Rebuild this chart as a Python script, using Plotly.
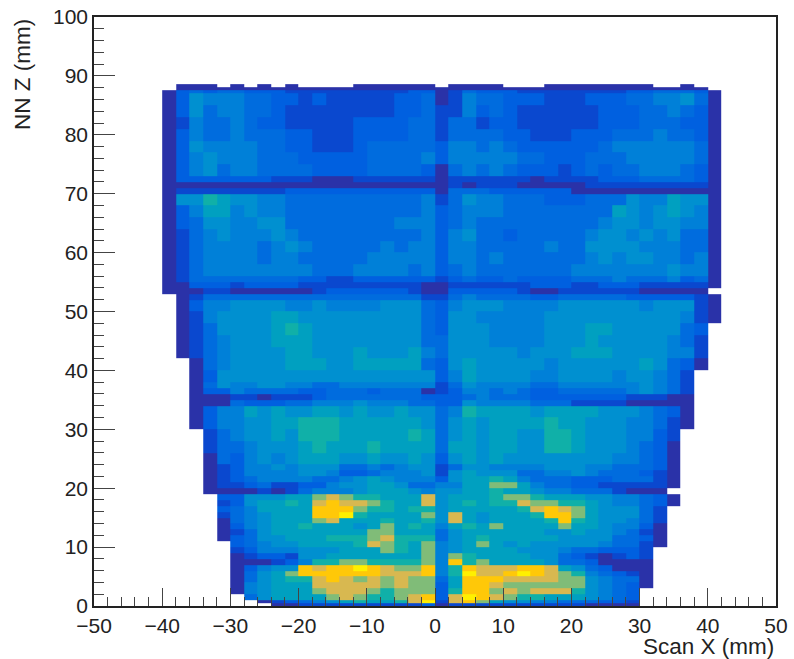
import plotly.graph_objects as go

# Bin edges (mm)
x_edges = list(range(-40, 44, 2))
y_edges_top_down = [88.6, 88.1, 87.6, 87, 85, 83, 81, 79, 77, 75, 73, 72, 71, 70, 68, 66, 64, 62, 60, 58,
                    56, 55, 54, 53, 52, 50, 48, 46, 44, 42, 40, 38, 37, 36, 35, 34, 32, 30, 28, 26, 24,
                    23, 22, 21, 20, 19, 18, 17, 16, 15, 14, 13, 12, 11, 10, 9, 8, 7, 6, 5, 4, 3, 2, 1, 0.5, 0]

# Colour level per bin (hex digit 0..B, "." = empty), top row first.
# Columns grouped: -40..-22, -20..-2, 0, 2..20, 22..40
rows = [
    ".000.0.0.0 ....000000 . 0000...000 00000..0..",
    ".000000000 0000000000 0 0000000000 000000000.",
    "0232332221 1111111122 0 1322211111 1112233320",
    "0254443322 1211111223 0 1433222111 2223344530",
    "0253443321 1111111223 1 1423211111 1222334320",
    "0143343221 1111222233 1 3312211111 1222333220",
    "0243343332 2111222233 1 3333221112 2233343320",
    "0254444332 2111233333 2 4434322222 2344444430",
    "0245444333 2222233334 2 4444433222 3334444430",
    "0245344333 3222233332 0 3434322212 3233444320",
    "0222222211 1000111111 0 1111110111 1222333320",
    "0000000000 0000000000 0 1011100000 1111111110",
    "0111111112 2222222222 0 3332222220 0000000000",
    "0557655443 3333333334 1 3544333222 3335446550",
    "0246645443 3333333334 2 3444333333 3365456540",
    "0235544553 3333333444 2 3433333333 3455455440",
    "0134544454 3333333334 2 4533233333 4554545330",
    "0134444345 4333334344 2 4433333433 5555444330",
    "0134444344 3333344444 2 4434333333 4545544340",
    "0134444444 4333444434 2 3433333334 4444445440",
    "0133333333 2211222222 1 2322322223 3343334230",
    "0022212222 1111111110 0 1111112221 1222111110",
    "0001100000 0122222210 0 2222210011 111100000.",
    ".013333333 3333333331 1 3433332233 3332222210",
    ".024455554 4544445553 2 4555444455 5555455510",
    ".014555566 5555555553 2 5544444555 5555555410",
    ".013555567 6555555553 2 5554444555 665555532.",
    ".013455566 6555555553 3 5554444555 655555431.",
    ".013455556 6555655564 3 5555545556 665555441.",
    "..03455556 6655666663 2 5655555455 555565320.",
    "..02555555 5555555555 2 4655554455 55455431..",
    "..03544554 4334444444 1 3544443344 44445431..",
    "..02243333 2233323330 1 2443432233 33345431..",
    "..00011011 1233333332 2 2343332222 22211100..",
    "..00032223 3444544433 2 2544443331 11100000..",
    "..02446565 5665655655 3 4766665666 65554320..",
    "..02445566 7776666665 3 5656666766 55544310..",
    "...1345565 7776666676 3 5656655776 5554421...",
    "...1334555 6766676666 3 6656655776 5554320...",
    "...0324545 6665565565 2 5656555555 5544320...",
    "...0124454 5553343455 1 3554444555 4433320...",
    "...0124444 5542234445 1 5655533445 4333210...",
    "...0123444 4334565444 2 5667643332 2233310...",
    "...0112311 2245566533 4 4668864332 2111110...",
    "...0000101 3444566654 5 5667665443 331000....",
    "....225556 6898776669 5 6667887666 5544320...",
    "....125667 69A9987669 5 6767798877 6544320...",
    "....234666 6AAA877677 5 6666679A98 655531....",
    "....134566 6AAB766668 5 9656667AA8 655531....",
    "....034566 6896667667 5 96566667A7 655431....",
    "....024566 7666568676 4 6768666686 654420....",
    "....013566 6666688666 3 5666666556 554310....",
    "....023556 6677789777 3 5676666655 553320....",
    ".....23455 6666798768 4 5686565555 543310....",
    ".....12444 5556668768 4 5666655543 32221.....",
    ".....01221 5566666668 4 8766665532 10121.....",
    ".....00012 4778877778 4 A786666533 20000.....",
    ".....02455 A9AABA988A 4 7A999AA965 32000.....",
    ".....03568 AAAAAA999A 4 7B99ABA987 43210.....",
    ".....03567 79A9898988 3 6AAA999988 54330.....",
    ".....04566 6999998988 2 6AA9888888 54320.....",
    ".....04566 6899987888 2 7AA8989997 5432......",
    "......3566 668987789A 2 9BA9877666 5432......",
    ".......012 345676679B 1 9A86554433 3221......",
    "........00 1111111112 0 1111111111 0000......",
]

level_colors = ["#2a32a8", "#0a48cf", "#0060e0", "#006cde", "#0080d8", "#0090d0",
                "#00a0c0", "#10b0a8", "#80bc78", "#d8b850", "#ffc808", "#fff000"]

x_title = "Scan X (mm)"
y_title = "NN Z (mm)"
x_ticks = list(range(-50, 60, 10))
y_ticks = list(range(0, 110, 10))

z = []
for r in rows[::-1]:
    cells = r.replace(" ", "")
    assert len(cells) == 41, r
    z.append([None if c == "." else int(c, 16) for c in cells])
y_edges = y_edges_top_down[::-1]

n = len(level_colors) - 1
colorscale = [[i / n, c] for i, c in enumerate(level_colors)]

fig = go.Figure(go.Heatmap(x=x_edges, y=y_edges, z=z, zmin=0, zmax=n, colorscale=colorscale,
                           showscale=False, hoverongaps=False))

tick_font = dict(family="Liberation Sans, Arial, sans-serif", size=21, color="#222222")
axis_common = dict(showgrid=False, zeroline=False, showline=True, mirror=True, linecolor="#222222",
                   linewidth=1.5, ticks="inside", tickcolor="#444444", tickwidth=1, tickfont=tick_font,
                   automargin=False)

fig.update_xaxes(range=[-50, 50], tickvals=x_ticks, ticklen=18, **axis_common,
                 minor=dict(dtick=2, ticks="inside", ticklen=9, tickcolor="#444444", tickwidth=1, showgrid=False))
fig.update_yaxes(range=[0, 100], tickvals=y_ticks, ticklen=21, **axis_common,
                 minor=dict(dtick=2, ticks="inside", ticklen=10, tickcolor="#444444", tickwidth=1, showgrid=False))

title_font = dict(family="Liberation Sans, Arial, sans-serif", size=22.5, color="#222222")
fig.update_layout(
    width=794, height=659, autosize=False,
    margin=dict(l=93.5, r=18, t=17, b=53),
    paper_bgcolor="white", plot_bgcolor="white",
    annotations=[
        dict(text=x_title, xref="paper", yref="paper", x=1, y=-0.068, xanchor="right", yanchor="middle",
             showarrow=False, font=title_font),
        dict(text=y_title, xref="paper", yref="paper", x=-0.105, y=1, xanchor="center", yanchor="top",
             textangle=-90, showarrow=False, font=title_font),
    ],
)
fig.write_html("out.html", config={"displayModeBar": False},
               post_script="document.body.style.margin='0';document.body.style.overflow='hidden';")
